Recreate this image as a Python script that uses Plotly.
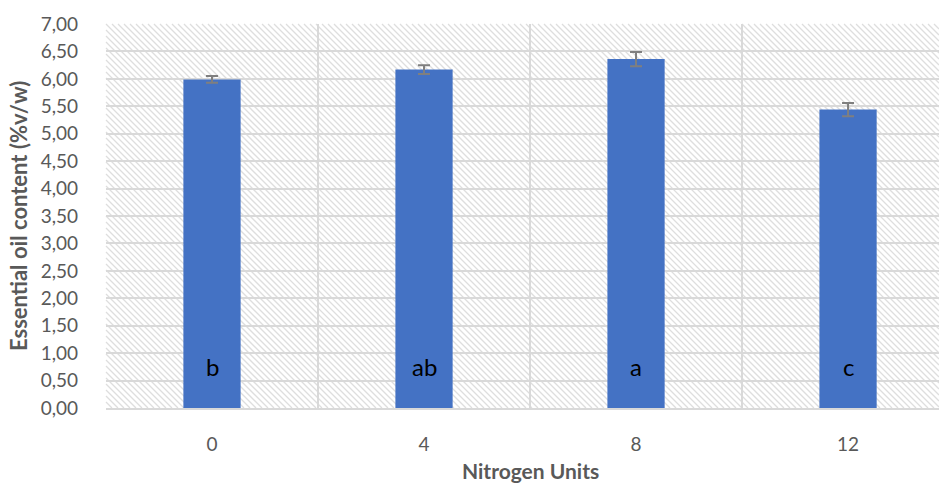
import plotly.graph_objects as go

categories = ["0", "4", "8", "12"]
oil_content = [5.99, 6.17, 6.36, 5.44]
error_values = [0.06, 0.08, 0.13, 0.12]
letters = ["b", "ab", "a", "c"]
y_ticks = [0, 0.5, 1, 1.5, 2, 2.5, 3, 3.5, 4, 4.5, 5, 5.5, 6, 6.5, 7]

FONT = "Lato, Open Sans, sans-serif"
GRID = "#d9d9d9"
TXT = "#595959"

xpos = list(range(len(categories)))

fig = go.Figure()
fig.add_trace(go.Bar(
    x=xpos, y=oil_content, width=0.27,
    marker=dict(color="#4472C4", line=dict(width=0)),
    error_y=dict(type="data", array=error_values, visible=True,
                 color="#7f7f7f", thickness=2, width=6),
))

# hatched plot-area background (decoration)
W, H, s = 833.0, 384.0, 6.0
parts = []
c = -H
while c < W:
    if c >= 0:
        x0, y0 = c, 0.0
    else:
        x0, y0 = 0.0, -c
    y1 = min(H, W - c)
    x1 = c + y1
    if y1 > y0:
        parts.append("M%.4f,%.4f L%.4f,%.4f" % (x0 / W, 1 - y0 / H, x1 / W, 1 - y1 / H))
    c += s
fig.add_shape(type="path", path=" ".join(parts), xref="paper", yref="paper",
              line=dict(color="#dedede", width=1.3), layer="below")

for i, t in enumerate(letters):
    fig.add_annotation(x=xpos[i], y=0.76, text=t, showarrow=False,
                       font=dict(family=FONT, size=24, color="#000000"),
                       xanchor="center", yanchor="middle")

fig.add_annotation(x=1.5, xref="x", y=-0.163, yref="paper", text="<b>Nitrogen Units</b>",
                   showarrow=False, font=dict(family=FONT, size=21, color=TXT),
                   xanchor="center", yanchor="middle")
fig.add_annotation(x=-0.1056, xref="paper", y=0.5, yref="paper",
                   text="<b>Essential oil content (%v/w)</b>", textangle=-90,
                   showarrow=False, font=dict(family=FONT, size=22, color=TXT),
                   xanchor="center", yanchor="middle")

fig.update_layout(
    width=939, height=486,
    margin=dict(l=106, r=0, t=24, b=78),
    paper_bgcolor="white", plot_bgcolor="white",
    separators=",.",
    showlegend=False,
    font=dict(family=FONT, color=TXT),
)
fig.update_xaxes(
    range=[-0.5, 3.429], tickvals=xpos, ticktext=categories,
    tickfont=dict(size=19, color=TXT), showgrid=False, zeroline=False,
    showline=True, linecolor=GRID, linewidth=2,
    ticks="", ticklabelstandoff=18,
    minor=dict(tickvals=[-0.5, 0.5, 1.5, 2.5, 3.5], showgrid=True,
               gridcolor=GRID, gridwidth=2, ticks=""),
)
fig.update_yaxes(
    range=[0, 7], tickvals=y_ticks, tickformat=".2f",
    tickfont=dict(size=19, color=TXT), showgrid=True, gridcolor=GRID, gridwidth=2,
    zeroline=False, showline=False, ticks="", ticklabelstandoff=27,
)

fig.write_html("out.html", config={"displayModeBar": False},
               post_script="document.body.style.margin='0';document.body.style.overflow='hidden';")
